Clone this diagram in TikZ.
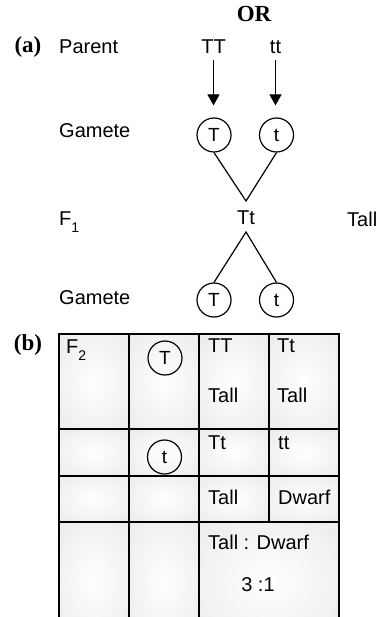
\documentclass[tikz,border=0pt]{standalone}
\usepackage{fontspec}
\setmainfont{Liberation Sans}
\newfontfamily\serifbold{Liberation Serif}
\usetikzlibrary{arrows.meta}
\pgfdeclareradialshading{cellshade}{\pgfpoint{0bp}{0bp}}{color(0bp)=(white); color(50bp)=(black!11); color(72bp)=(black!13)}
\tikzset{
  lbl/.style={inner sep=0pt, font=\fontsize{20}{22}\selectfont},
  ttl/.style={inner sep=0pt, font=\serifbold\fontsize{23}{24}\selectfont\bfseries},
  gam/.style={circle, draw, line width=1.2pt, minimum size=34pt, inner sep=0pt, font=\fontsize{19}{20}\selectfont},
  link/.style={line width=1.2pt},
  arr/.style={line width=1.2pt, -{Triangle[width=12pt,length=11pt]}},
  cell/.style={draw, line width=1.5pt, shading=cellshade}
}
\begin{document}
\begin{tikzpicture}[x=1pt,y=-1pt]
\useasboundingbox (0,0) rectangle (380,617);
% titles
\node[ttl] (or) at (254,14.5) {OR};
\node[ttl] (a) at (28,47) {(a)};
\node[ttl] (b) at (28,345) {(b)};
% row labels
\node[lbl,anchor=west] (parent) at (59,47) {Parent};
\node[lbl,anchor=west] (gam1) at (59,131) {Gamete};
\node[lbl,anchor=west] (f1) at (59,222) {F\raisebox{-7pt}{\fontsize{14}{14}\selectfont 1}};
\node[lbl,anchor=west] (gam2) at (59,298) {Gamete};
\node[lbl,anchor=west] (tall) at (347,219) {Tall};
% parents
\node[lbl] (TT) at (213.5,47) {TT};
\node[lbl] (tt) at (275.5,47) {tt};
% gametes
\node[gam] (gT1) at (214,135) {T};
\node[gam] (gt1) at (276.5,135) {t};
\draw[arr, shorten <=6pt, shorten >=12pt] (TT.south) -- (TT.south |- gT1.north);
\draw[arr, shorten <=6pt, shorten >=12pt] (tt.south) -- (tt.south |- gt1.north);
% F1
\node[lbl] (Tt) at (246,218) {Tt};
\coordinate (apex) at (246,201);
\coordinate (split) at (246,232);
\draw[link] (gT1.south) -- (apex) -- (gt1.south);
\node[gam] (gT2) at (214,300) {T};
\node[gam] (gt2) at (276.5,300) {t};
\draw[link] (gT2.north) -- (split) -- (gt2.north);
% table
\begin{scope}
\clip (0,0) rectangle (380,617);
\foreach \ya/\yb in {334/429, 429/476, 476/522} {
  \foreach \xa/\xb in {59/129, 129/199, 199/269, 269/339} {
    \path[cell] (\xa,\ya) rectangle (\xb,\yb);
  }
}
\path[cell] (59,522) rectangle (129,640);
\path[cell] (129,522) rectangle (199,640);
\path[cell] (199,522) rectangle (339,640);
\end{scope}
\node[lbl,anchor=west] (f2) at (66,350) {F\raisebox{-7pt}{\fontsize{14}{14}\selectfont 2}};
\node[gam] (cT) at (165,358) {T};
\node[gam] (ct) at (164.5,457) {t};
\node[lbl,anchor=west] (c13) at (208,346) {TT};
\node[lbl,anchor=west] (c14) at (277,346) {Tt};
\node[lbl,anchor=west] (c13b) at (208,395) {Tall};
\node[lbl,anchor=west] (c14b) at (277,395) {Tall};
\node[lbl,anchor=west] (c23) at (208,443) {Tt};
\node[lbl,anchor=west] (c24) at (278,443) {tt};
\node[lbl,anchor=west] (c33) at (208,497) {Tall};
\node[lbl,anchor=west] (c34) at (278,497) {Dwarf};
\node[lbl,anchor=west] (ratio1) at (208,542) {Tall : Dwarf};
\node[lbl] (ratio2) at (258,585) {3 :1};
\end{tikzpicture}
\end{document}
